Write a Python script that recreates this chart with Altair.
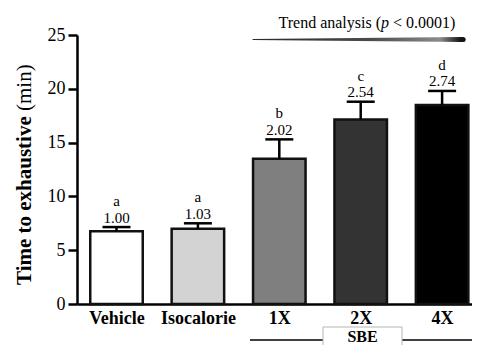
import altair as alt
import pandas as pd

# ---- data ----
groups = ["Vehicle", "Isocalorie", "1X", "2X", "4X"]
means = [6.75, 7.0, 13.5, 17.15, 18.5]
err_tops = [7.15, 7.5, 15.3, 18.8, 19.8]
ratios = ["1.00", "1.03", "2.02", "2.54", "2.74"]
letters = ["a", "a", "b", "c", "d"]
fills = ["#ffffff", "#d3d3d3", "#7f7f7f", "#333333", "#000000"]
y_ticks = [0, 5, 10, 15, 20, 25]

df = pd.DataFrame({
    "group": groups,
    "idx": list(range(len(groups))),
    "mean": means,
    "top": err_tops,
    "ratio": ratios,
    "letter": letters,
})

SERIF = "Liberation Serif"
HALF = 0.3225
CAP = 0.172
W = 395
H = 269
xscale = alt.Scale(domain=[-0.4853, -0.4853 + W / 81.4], nice=False, zero=False)
yscale = alt.Scale(domain=[0, 25], nice=False)
label_expr = "[" + ",".join("'%s'" % g for g in groups) + "][datum.value]"

base = alt.Chart(df)

bars = base.transform_calculate(
    x0="datum.idx - %f" % HALF, x1="datum.idx + %f" % HALF
).mark_bar(stroke="#111111", strokeWidth=2.5).encode(
    x=alt.X("x0:Q", scale=xscale, title=None,
            axis=alt.Axis(values=[0, 1, 2, 3, 4], labelExpr=label_expr, ticks=False,
                          tickSize=0, labelFont=SERIF, labelFontSize=18,
                          labelFontWeight="bold", labelColor="black",
                          domainColor="black", domainWidth=2.5, grid=False,
                          title=None, labelPadding=5, labelFlush=False,
                          labelOverlap=False)),
    x2="x1:Q",
    y=alt.Y("mean:Q", scale=yscale, title=None,
            axis=alt.Axis(values=y_ticks, title=None, grid=False, tickSize=9,
                          tickWidth=2.5, tickColor="black", domainColor="black",
                          domainWidth=2.5, labelFont=SERIF, labelFontSize=18,
                          labelColor="black", labelPadding=3, format="d")),
    y2=alt.datum(0),
    color=alt.Color("group:N", scale=alt.Scale(domain=groups, range=fills), legend=None),
)

stems = base.mark_rule(color="black", strokeWidth=2.5).encode(
    x=alt.X("idx:Q", scale=xscale, title=None),
    y=alt.Y("mean:Q", scale=yscale, title=None),
    y2="top:Q",
)

caps = base.transform_calculate(
    c0="datum.idx - %f" % CAP, c1="datum.idx + %f" % CAP
).mark_rule(color="black", strokeWidth=2.5).encode(
    x=alt.X("c0:Q", scale=xscale, title=None),
    x2="c1:Q",
    y=alt.Y("top:Q", scale=yscale, title=None),
)

ratio_text = base.mark_text(font=SERIF, fontSize=15, baseline="alphabetic",
                            dy=-4.5, color="black").encode(
    x=alt.X("idx:Q", scale=xscale, title=None),
    y=alt.Y("top:Q", scale=yscale, title=None),
    text="ratio:N",
)

letter_text = base.mark_text(font=SERIF, fontSize=15, baseline="alphabetic",
                             dy=-21, color="black").encode(
    x=alt.X("idx:Q", scale=xscale, title=None),
    y=alt.Y("top:Q", scale=yscale, title=None),
    text="letter:N",
)

# ---- trend wedge ----
trend_df = pd.DataFrame({"tx": [2 - HALF, 4 + 0.26], "ty": [24.58, 24.58], "w": [1.2, 5.0]})
grad = alt.LinearGradient(
    gradient="linear",
    stops=[alt.GradientStop(color="#2a2a2a", offset=0),
           alt.GradientStop(color="#4a4a4a", offset=0.55),
           alt.GradientStop(color="#8c8c8c", offset=0.88),
           alt.GradientStop(color="#1a1a1a", offset=0.97),
           alt.GradientStop(color="#111111", offset=1)],
    x1=0, x2=1, y1=0, y2=0,
)
trend = alt.Chart(trend_df).mark_trail(color=grad).encode(
    x=alt.X("tx:Q", scale=xscale, title=None),
    y=alt.Y("ty:Q", scale=yscale, title=None),
    size=alt.Size("w:Q", scale=None, legend=None),
)

one = pd.DataFrame({"k": [0]})
ann = alt.Chart(one)
t1 = ann.mark_text(text="Trend analysis (", font=SERIF, fontSize=16, align="right",
                   baseline="alphabetic", color="black").encode(x=alt.value(304), y=alt.value(-7))
t2 = ann.mark_text(text="p", font=SERIF, fontSize=16, fontStyle="italic", align="left",
                   baseline="alphabetic", color="black").encode(x=alt.value(304), y=alt.value(-7))
t3 = ann.mark_text(text="< 0.0001)", font=SERIF, fontSize=16, align="left",
                   baseline="alphabetic", color="black").encode(x=alt.value(316), y=alt.value(-7))

# ---- y title (bold + regular) ----
yt1 = ann.mark_text(text="Time to exhaustive", font=SERIF, fontSize=21, fontWeight="bold",
                    angle=270, align="left", baseline="alphabetic", color="black").encode(
    x=alt.value(-46), y=alt.value(250))
yt2 = ann.mark_text(text="(min)", font=SERIF, fontSize=21, angle=270, align="left",
                    baseline="alphabetic", color="black").encode(
    x=alt.value(-46), y=alt.value(76))

# ---- SBE bracket ----
sbe_line = ann.mark_rule(color="black", strokeWidth=1.5).encode(
    x=alt.value(173), x2=alt.value(W), y=alt.value(305))
sbe_box = ann.mark_rect(fill="white", stroke="#b5b5b5", strokeWidth=1).encode(
    x=alt.value(246), x2=alt.value(325), y=alt.value(292), y2=alt.value(330))
sbe_text = ann.mark_text(text="SBE", font=SERIF, fontSize=16, fontWeight="bold",
                         align="center", baseline="alphabetic", color="black").encode(
    x=alt.value(285.5), y=alt.value(307))

chart = alt.layer(
    bars, stems, caps, ratio_text, letter_text, trend, t1, t2, t3, yt1, yt2,
    sbe_line, sbe_box, sbe_text,
).properties(
    width=W, height=H,
    padding={"left": 69, "top": 27, "right": 0, "bottom": 41},
    autosize=alt.AutoSizeParams(type="none"),
).configure_view(stroke=None)

chart.save("out.html", embed_options={"renderer": "svg", "actions": False})
